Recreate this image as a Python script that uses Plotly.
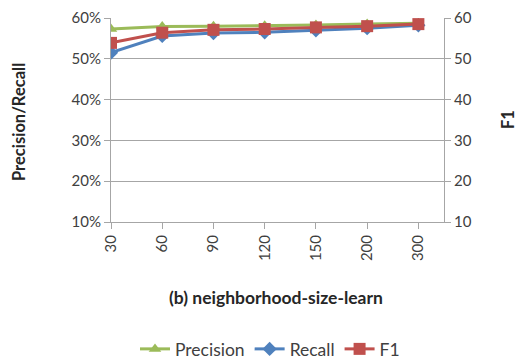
import plotly.graph_objects as go

categories = ["30", "60", "90", "120", "150", "200", "300"]
precision = [0.573, 0.579, 0.580, 0.581, 0.583, 0.585, 0.587]
recall = [0.515, 0.556, 0.563, 0.565, 0.570, 0.575, 0.582]
f1 = [53.9, 56.4, 57.1, 57.3, 57.7, 58.0, 58.5]

xidx = list(range(len(categories)))
FONT = "Lato, 'Open Sans', sans-serif"
GREY = "#A6A6A6"

L, R, T, B = 111, 81, 18, 138
pw = 525 - L - R
ph = 360 - T - B

fig = go.Figure()
fig.add_trace(go.Scatter(x=xidx, y=precision, name="Precision", mode="lines+markers",
                         line=dict(color="#9BBB59", width=3),
                         marker=dict(symbol="triangle-up", size=11, color="#9BBB59")))
fig.add_trace(go.Scatter(x=xidx, y=recall, name="Recall", mode="lines+markers",
                         line=dict(color="#4F81BD", width=3),
                         marker=dict(symbol="diamond", size=11, color="#4F81BD")))
fig.add_trace(go.Scatter(x=xidx, y=f1, name="F1", mode="lines+markers", yaxis="y2",
                         line=dict(color="#C0504D", width=3),
                         marker=dict(symbol="square", size=12, color="#C0504D")))

fig.update_layout(
    width=525, height=360,
    margin=dict(l=L, r=R, t=T, b=B),
    paper_bgcolor="white", plot_bgcolor="white",
    font=dict(family=FONT, size=15, color="#404040"),
    showlegend=True,
    legend=dict(orientation="h", x=270 / 525, xanchor="center", xref="container",
                y=1 - 349 / 360, yanchor="middle", yref="container",
                font=dict(size=17.5, color="#404040"), tracegroupgap=0),
    xaxis=dict(range=[0, 6.5], tickvals=xidx, ticktext=categories, tickangle=-90,
               showgrid=False, showline=True, linecolor=GREY, linewidth=1,
               ticks="outside", ticklen=6, tickcolor=GREY, zeroline=False, automargin=False,
               tickfont=dict(size=15, color="#404040")),
    yaxis=dict(range=[0.1, 0.6], tickvals=[0.1, 0.2, 0.3, 0.4, 0.5, 0.6], tickformat=".0%",
               showgrid=True, gridcolor=GREY, gridwidth=1, showline=True, linecolor=GREY,
               ticks="outside", ticklen=6, tickcolor=GREY, zeroline=False, automargin=False,
               tickfont=dict(size=15, color="#404040")),
    yaxis2=dict(range=[10, 60], tickvals=[10, 20, 30, 40, 50, 60], overlaying="y", side="right",
                showgrid=False, showline=True, linecolor=GREY, ticks="outside", ticklen=6,
                tickcolor=GREY, zeroline=False, automargin=False,
                tickfont=dict(size=15, color="#404040")),
    annotations=[
        dict(text="<b>(b) neighborhood-size-learn</b>", x=(276 - L) / pw, y=(ph + T - 297) / ph,
             xref="paper", yref="paper", showarrow=False, font=dict(size=17.5, color="#262626"),
             xanchor="center", yanchor="middle"),
        dict(text="<b>Precision/Recall</b>", x=(19 - L) / pw, y=(ph + T - 122) / ph, xref="paper",
             yref="paper", textangle=-90, showarrow=False, font=dict(size=16.5, color="#262626"),
             xanchor="center", yanchor="middle"),
        dict(text="<b>F1</b>", x=(508 - L) / pw, y=0.5, xref="paper", yref="paper",
             textangle=-90, showarrow=False, font=dict(size=16.5, color="#262626"),
             xanchor="center", yanchor="middle"),
    ],
)

fig.write_html("out.html", config={"displayModeBar": False},
               post_script="document.body.style.margin='0';")
